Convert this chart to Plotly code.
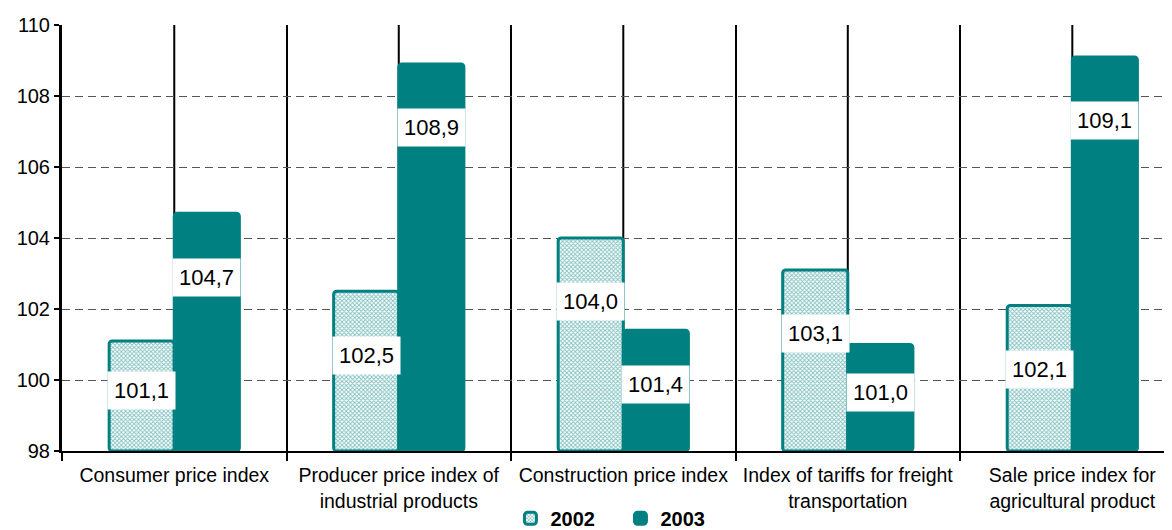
import plotly.graph_objects as go

categories = [
    "Consumer price index",
    "Producer price index of<br>industrial products",
    "Construction price index",
    "Index of tariffs for freight<br>transportation",
    "Sale price index for<br>agricultural product",
]
values_2002 = [101.1, 102.5, 104.0, 103.1, 102.1]
values_2003 = [104.7, 108.9, 101.4, 101.0, 109.1]
y_ticks = [98, 100, 102, 104, 106, 108, 110]

TEAL = "#008080"
FONT = "Liberation Sans, Arial, sans-serif"

fig = go.Figure()
fig.add_trace(go.Bar(
    name="2002", x=categories, y=[v - 98 for v in values_2002], base=98,
    marker=dict(color="white", line=dict(color=TEAL, width=3), cornerradius=3,
                pattern=dict(shape="x", size=3, solidity=0.5, fgcolor=TEAL, bgcolor="white", fillmode="overlay")),
    hoverinfo="skip",
))
fig.add_trace(go.Bar(
    name="2003", x=categories, y=[v - 98 for v in values_2003], base=98,
    marker=dict(color=TEAL, line=dict(color=TEAL, width=3), cornerradius=3),
    hoverinfo="skip",
))

# center vertical lines (behind bars)
for i in range(len(categories)):
    fig.add_shape(type="line", xref="x", yref="y", x0=i, x1=i, y0=98, y1=110,
                  line=dict(color="black", width=2), layer="below")

# value labels
half = 0.145
for i, (a, b) in enumerate(zip(values_2002, values_2003)):
    for off, v in ((-half, a), (half, b)):
        ly = max(v - 1.8, 98 + 0.55 * (v - 98))
        fig.add_annotation(x=i + off, y=ly, xref="x", yref="y",
                           text=f"{v:.1f}".replace(".", ","), showarrow=False,
                           bgcolor="white", borderpad=6,
                           font=dict(family=FONT, size=22, color="black"))

fig.update_layout(
    width=1164, height=522,
    margin=dict(l=54, r=0, t=17, b=79, autoexpand=False),
    plot_bgcolor="white", paper_bgcolor="white",
    barmode="group", bargap=0.42, bargroupgap=0,
    font=dict(family=FONT, size=19, color="black"),
    showlegend=True,
    legend=dict(orientation="h", x=0.404, xanchor="left", y=-0.158, yanchor="middle",
                font=dict(family=FONT, size=20, color="black", weight="bold"),
                itemwidth=30, entrywidth=65, entrywidthmode="pixels",
                tracegroupgap=0, bgcolor="rgba(0,0,0,0)"),
)
fig.update_xaxes(
    type="category", range=[-0.5, 4.444], tickson="boundaries", automargin=False,
    showgrid=True, gridcolor="black", gridwidth=2,
    ticks="outside", ticklen=8, tickwidth=2, tickcolor="black",
    showline=True, linecolor="black", linewidth=2,
    ticklabelstandoff=6,
    tickfont=dict(family=FONT, size=19.5, color="black"),
)
fig.update_yaxes(
    range=[98, 110], tickvals=y_ticks, ticktext=[str(t) for t in y_ticks], automargin=False,
    showgrid=True, gridcolor="#555555", gridwidth=1, griddash="8px,5px",
    ticks="outside", ticklen=5, tickwidth=2, tickcolor="black",
    showline=True, linecolor="black", linewidth=3,
    tickfont=dict(family=FONT, size=20, color="black"),
    zeroline=False,
)

fig.write_html("out.html")
